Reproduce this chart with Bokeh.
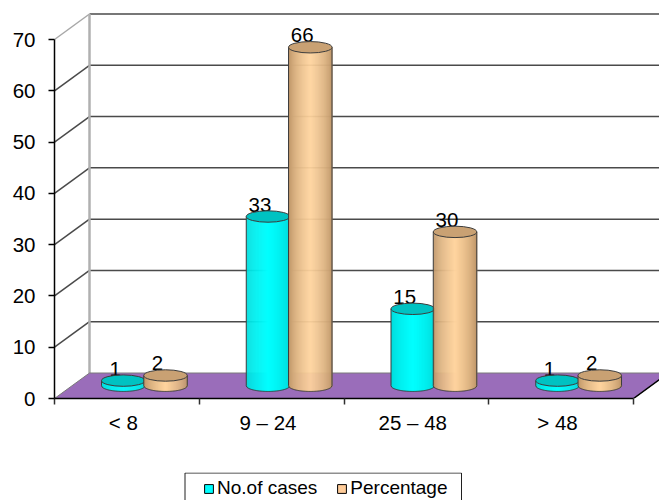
import numpy as np
from bokeh.embed import file_html
from bokeh.layouts import column
from bokeh.models import FixedTicker, Legend, LegendItem, ColumnDataSource
from bokeh.plotting import figure
from bokeh.resources import INLINE

categories = ["< 8", "9 – 24", "25 – 48", "> 48"]
cases = [1, 33, 15, 1]
percentage = [2, 66, 30, 2]
y_ticks = [0, 10, 20, 30, 40, 50, 60, 70]
series_names = ["No.of cases", "Percentage"]

FONT = "Liberation Sans"
PX_PER_X = 144.75          # pixels per category
PX_PER_Y = 359 / 70        # pixels per value unit
DEPTH_X = 35 / PX_PER_X    # oblique depth of the box, in data units
DEPTH_Y = 25.5 / PX_PER_Y
X_END = 605 / PX_PER_X
Y_END = 398 / PX_PER_Y
RADIUS = 21.75 / PX_PER_X
RY = 5.7 / PX_PER_Y
BASE = DEPTH_Y / 2

p = figure(width=659, height=472, output_backend="svg", toolbar_location=None,
           x_range=(0, X_END), y_range=(0, Y_END),
           min_border_left=54, min_border_right=0, min_border_top=0, min_border_bottom=74,
           background_fill_color="white", border_fill_color="white", outline_line_color=None)
p.grid.visible = False

# axes
p.yaxis.bounds = (0, 70)
p.yaxis.ticker = FixedTicker(ticks=y_ticks)
p.yaxis.major_tick_out = 6
p.yaxis.major_tick_in = 0
p.yaxis.minor_tick_out = 0
p.yaxis.minor_tick_in = 0
p.yaxis.major_label_standoff = 13
p.yaxis.major_label_text_font = FONT
p.yaxis.major_label_text_font_size = "20.5px"
p.yaxis.major_label_text_color = "black"
p.yaxis.axis_line_color = "black"
p.yaxis.axis_line_width = 1.5
p.yaxis.major_tick_line_color = "black"
p.yaxis.major_tick_line_width = 1.5

centres = [i + 0.475 for i in range(len(categories))]
p.xaxis.bounds = (0, len(categories))
p.xaxis.ticker = FixedTicker(ticks=centres, minor_ticks=list(range(len(categories) + 1)))
p.xaxis.major_label_overrides = {c: n for c, n in zip(centres, categories)}
p.xaxis.major_tick_out = 0
p.xaxis.major_tick_in = 0
p.xaxis.minor_tick_out = 6
p.xaxis.minor_tick_in = 0
p.xaxis.major_label_standoff = 6
p.xaxis.major_label_text_font = FONT
p.xaxis.major_label_text_font_size = "20.5px"
p.xaxis.major_label_text_color = "black"
p.xaxis.axis_line_color = "black"
p.xaxis.axis_line_width = 1.5
p.xaxis.minor_tick_line_color = "#303030"
p.xaxis.minor_tick_line_width = 1.5

# back and side walls
wall_vals = [v for v in y_ticks if v > 0]
p.multi_line([[DEPTH_X, X_END] for _ in wall_vals],
             [[v + DEPTH_Y, v + DEPTH_Y] for v in wall_vals],
             line_color="#4a4a4a", line_width=1.5)
p.multi_line([[0, DEPTH_X] for v in wall_vals if v < 70],
             [[v, v + DEPTH_Y] for v in wall_vals if v < 70],
             line_color="#4a4a4a", line_width=1.5)
p.line([0, DEPTH_X], [70, 70 + DEPTH_Y], line_color="#a8a8a8", line_width=1.5)
p.line([DEPTH_X, DEPTH_X], [DEPTH_Y, 70 + DEPTH_Y], line_color="#b0b0b0", line_width=2.5)

# floor
n = len(categories)
p.patch([0, DEPTH_X, n + DEPTH_X, n], [0, DEPTH_Y, DEPTH_Y, 0],
        fill_color="#9a6dba", line_color="#7a7a7a", line_width=1)
p.line([n, n + DEPTH_X], [0, DEPTH_Y], line_color="black", line_width=1.5)


def shade(t, edge, mid):
    """Cylinder colour across the width; t runs from -1 to 1."""
    k = (1 - abs(t)) ** 0.6
    c = [int(round(e + (m - e) * k)) for e, m in zip(edge, mid)]
    return "#%02x%02x%02x" % tuple(c)


def cylinders(centre_offset, values, edge, mid, top_colour):
    lefts, rights, tops, bottoms, colours = [], [], [], [], []
    out_x, out_y = [], []
    for i, v in enumerate(values):
        cx = i + centre_offset
        top = v + BASE
        ts = np.linspace(-1, 1, 45)
        for a, b in zip(ts[:-1], ts[1:]):
            m = (a + b) / 2
            lefts.append(cx + a * RADIUS)
            rights.append(cx + b * RADIUS + 0.5 / PX_PER_X)
            tops.append(top)
            bottoms.append(BASE - RY * np.sqrt(1 - m * m))
            colours.append(shade(m, edge, mid))
        arc = np.linspace(-1, 1, 60)
        out_x.append([cx - RADIUS] + list(cx + arc * RADIUS) + [cx + RADIUS])
        out_y.append([top] + list(BASE - RY * np.sqrt(1 - arc * arc)) + [top])
    p.quad(left=lefts, right=rights, top=tops, bottom=bottoms,
           fill_color=colours, line_color=None)
    p.multi_line(out_x, out_y, line_color="#3c3c3c", line_width=1)
    xs = [i + centre_offset for i in range(len(values))]
    ys = [v + BASE for v in values]
    p.ellipse(xs, ys, width=2 * RADIUS, height=2 * RY,
              fill_color=top_colour, line_color="#3c3c3c", line_width=1)


CYAN_OFFSET = 0.475
ORANGE_OFFSET = 0.767

# value labels sit behind the cylinder caps
for offset, values in ((CYAN_OFFSET, cases), (ORANGE_OFFSET, percentage)):
    src = ColumnDataSource(dict(x=[i + offset for i in range(n)],
                                y=[v + BASE for v in values],
                                t=[str(v) for v in values]))
    p.text("x", "y", text="t", source=src, x_offset=-8, y_offset=-12,
           text_align="center", text_baseline="middle",
           text_font={"value": FONT}, text_font_size={"value": "20.5px"}, text_color="black")

cylinders(CYAN_OFFSET, cases, (0, 215, 215), (0, 255, 255), "#00c2c2")
cylinders(ORANGE_OFFSET, percentage, (182, 142, 98), (255, 212, 158), "#c9a173")

# legend strip under the chart; its frame lines up with the chart's, so x starts at 54,
# and the box runs past the lower page edge
lg = figure(width=659, height=28, output_backend="svg", toolbar_location=None,
            x_range=(54, 659), y_range=(0, 28), x_axis_location=None, y_axis_location=None,
            min_border=0, background_fill_color="white", border_fill_color="white",
            outline_line_color=None)
lg.grid.visible = False
lg.quad(left=[184.5], right=[461], top=[27.5], bottom=[-6], fill_color=None,
        line_color="#202020", line_width=1)
# zero-width quads outside the visible range only supply the legend's swatch style
sw1 = lg.quad(left=[0], right=[0], top=[0], bottom=[0],
              fill_color="#00ffff", line_color="black", line_width=1)
sw2 = lg.quad(left=[0], right=[0], top=[0], bottom=[0],
              fill_color="#ffcc99", line_color="black", line_width=1)
legend = Legend(items=[LegendItem(label=series_names[0], renderers=[sw1]),
                       LegendItem(label=series_names[1], renderers=[sw2])],
                location=(149, 1), orientation="horizontal",
                glyph_width=11, glyph_height=11, label_standoff=3, spacing=19,
                padding=0, margin=0, label_text_font=FONT, label_text_font_size="19px",
                label_text_color="black", border_line_color=None,
                background_fill_alpha=0)
lg.add_layout(legend)

open("out.html", "w").write(file_html(column(p, lg, spacing=0), INLINE))
